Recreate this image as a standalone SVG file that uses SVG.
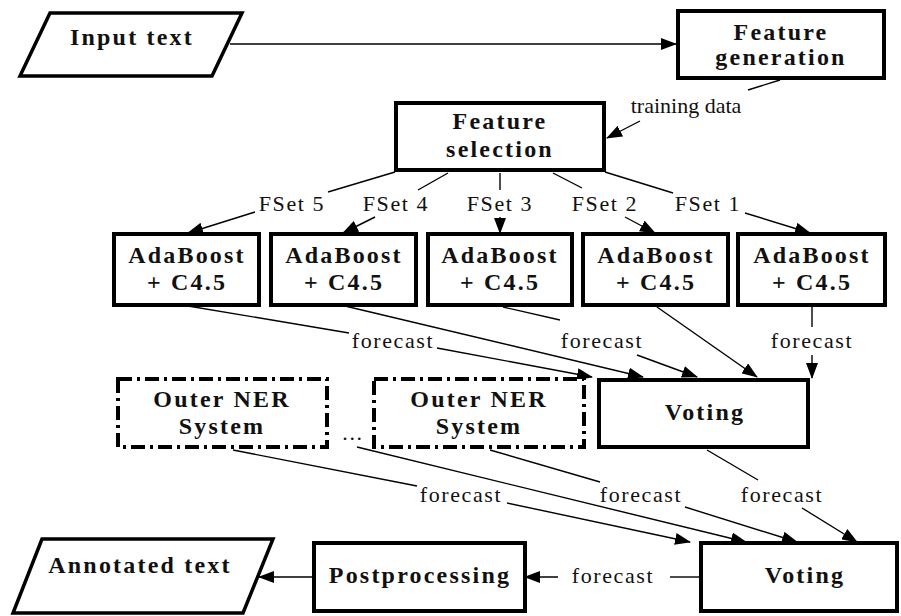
<svg xmlns="http://www.w3.org/2000/svg" width="901" height="616" viewBox="0 0 901 616" font-family="Liberation Serif, Times New Roman, serif">
<style>
.box{fill:#fff;stroke:#000;stroke-width:4}
.para{fill:#fff;stroke:#000;stroke-width:3.5;stroke-linejoin:miter}
.ext{fill:#fff;stroke:#000;stroke-width:4;stroke-dasharray:14 5 3 5}
.b{font-weight:bold;font-size:24px;letter-spacing:2.2px;text-anchor:middle;fill:#111}
.l{font-size:22px;letter-spacing:1.6px;text-anchor:middle;fill:#111}
.e{fill:none;stroke:#000;stroke-width:1.4}
.a{marker-end:url(#ah)}
</style>
<defs>
<marker id="ah" markerUnits="userSpaceOnUse" markerWidth="16" markerHeight="12" viewBox="0 0 16 12" refX="15" refY="6" orient="auto">
<path d="M0,0 L16,6 L0,12 Z" fill="#000"/>
</marker>
</defs>
<g id="connectors">
<path class="e a" d="M230,44 L676,44"/>
<path class="e" d="M780,80 L748,90"/>
<path class="e a" d="M640,121 L607,138"/>
<path class="e" d="M395,172 L328,192"/>
<path class="e a" d="M255,212 L188,233"/>
<path class="e" d="M448,173 L418,190"/>
<path class="e a" d="M375,217 L343,233"/>
<path class="e" d="M500,173 L500,190"/>
<path class="e a" d="M500,217 L500,233"/>
<path class="e" d="M553,173 L582,188"/>
<path class="e a" d="M625,217 L655,233"/>
<path class="e" d="M605,172 L673,193"/>
<path class="e a" d="M745,213 L810,233"/>
<path class="e" d="M188,306 L349,333"/>
<path class="e a" d="M437,348 L592,377"/>
<path class="e a" d="M345,306 L643,377"/>
<path class="e" d="M503,307 L560,320"/>
<path class="e a" d="M637,355 L697,377"/>
<path class="e a" d="M657,307 L757,377"/>
<path class="e" d="M812,307 L812,327"/>
<path class="e a" d="M812,355 L812,378"/>
<path class="e" d="M233,450 L417,486"/>
<path class="e a" d="M507,503 L690,542"/>
<path class="e a" d="M357,447 L746,542"/>
<path class="e" d="M490,450 L600,482"/>
<path class="e a" d="M685,507 L797,542"/>
<path class="e" d="M707,450 L758,480"/>
<path class="e a" d="M802,508 L857,542"/>
<path class="e" d="M700,577 L670,577"/>
<path class="e a" d="M558,577 L525,577"/>
<path class="e a" d="M313,577 L259,577"/>
</g>
<g id="input-text">
<polygon class="para" points="50,13 242,13 212,76 20,76"/>
<text class="b" x="132" y="45">Input text</text>
</g>
<g id="feature-generation">
<rect class="box" x="678" y="11" width="206" height="67"/>
<text class="b" x="781" y="40">Feature</text>
<text class="b" x="781" y="65">generation</text>
</g>
<g id="feature-selection">
<rect class="box" x="396" y="103" width="208" height="67"/>
<text class="b" x="500" y="129">Feature</text>
<text class="b" x="500" y="157">selection</text>
</g>
<g id="adaboost-5">
<rect class="box" x="114" y="234" width="145" height="71"/>
<text class="b" x="187" y="263">AdaBoost</text>
<text class="b" x="187" y="290">+ C4.5</text>
</g>
<g id="adaboost-4">
<rect class="box" x="271" y="234" width="145" height="71"/>
<text class="b" x="344" y="263">AdaBoost</text>
<text class="b" x="344" y="290">+ C4.5</text>
</g>
<g id="adaboost-3">
<rect class="box" x="428" y="234" width="144" height="71"/>
<text class="b" x="500" y="263">AdaBoost</text>
<text class="b" x="500" y="290">+ C4.5</text>
</g>
<g id="adaboost-2">
<rect class="box" x="583" y="234" width="145" height="71"/>
<text class="b" x="656" y="263">AdaBoost</text>
<text class="b" x="656" y="290">+ C4.5</text>
</g>
<g id="adaboost-1">
<rect class="box" x="738" y="234" width="147" height="71"/>
<text class="b" x="812" y="263">AdaBoost</text>
<text class="b" x="812" y="290">+ C4.5</text>
</g>
<g id="outer-ner-1">
<rect class="ext" x="118" y="379" width="209" height="68"/>
<text class="b" x="222" y="407">Outer NER</text>
<text class="b" x="222" y="434">System</text>
</g>
<g id="outer-ner-2">
<rect class="ext" x="374" y="379" width="210" height="68"/>
<text class="b" x="479" y="407">Outer NER</text>
<text class="b" x="479" y="434">System</text>
</g>
<g id="voting-1">
<rect class="box" x="599" y="380" width="209" height="67"/>
<text class="b" x="705" y="420">Voting</text>
</g>
<g id="voting-2">
<rect class="box" x="701" y="543" width="196" height="68"/>
<text class="b" x="805" y="583">Voting</text>
</g>
<g id="postprocessing">
<rect class="box" x="314" y="543" width="211" height="68"/>
<text class="b" x="420" y="583">Postprocessing</text>
</g>
<g id="annotated-text">
<polygon class="para" points="42,539 273,539 243,613 13,613"/>
<text class="b" x="140" y="573">Annotated text</text>
</g>
<g id="labels">
<text class="l" x="686" y="113" style="letter-spacing:0">training data</text>
<text class="l" x="292" y="211">FSet 5</text>
<text class="l" x="396" y="211">FSet 4</text>
<text class="l" x="500" y="211">FSet 3</text>
<text class="l" x="605" y="211">FSet 2</text>
<text class="l" x="708" y="211">FSet 1</text>
<text class="l" x="393" y="348">forecast</text>
<text class="l" x="602" y="348">forecast</text>
<text class="l" x="812" y="348">forecast</text>
<text class="l" x="461" y="502">forecast</text>
<text class="l" x="641" y="502">forecast</text>
<text class="l" x="782" y="502">forecast</text>
<text class="l" x="613" y="583">forecast</text>
<text class="l" x="353" y="440">...</text>
</g>
</svg>
